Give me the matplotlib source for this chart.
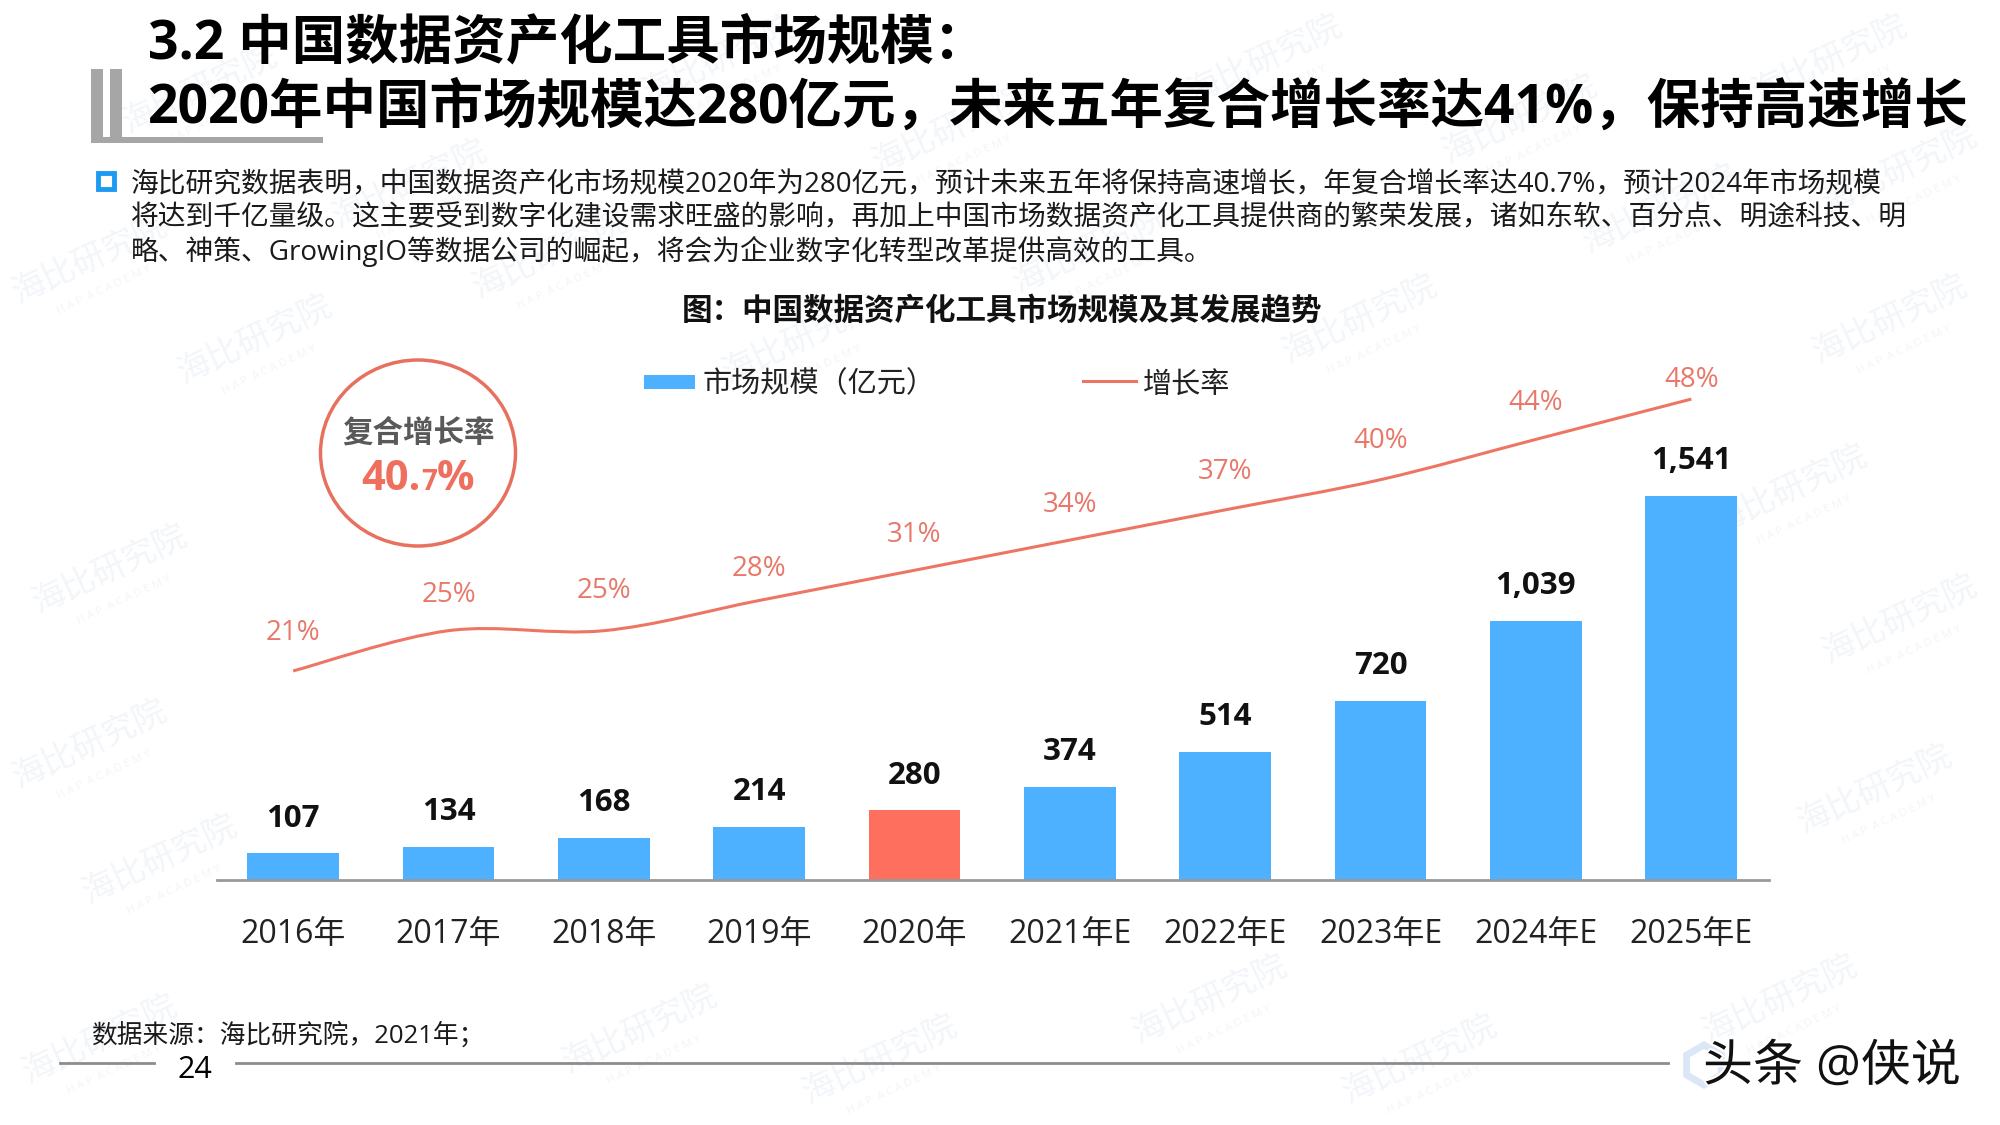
"""China data-asset tool market size slide (bars + smoothed growth line)."""
import matplotlib
matplotlib.use("Agg")
import matplotlib.pyplot as plt
import numpy as np
from matplotlib.patches import Ellipse, PathPatch, Rectangle, RegularPolygon
from matplotlib.path import Path
import matplotlib.patheffects as pe

plt.rcParams["font.family"] = ["Open Sans", "Noto Sans CJK SC", "DejaVu Sans"]

years = ["2016年", "2017年", "2018年", "2019年", "2020年",
         "2021年E", "2022年E", "2023年E", "2024年E", "2025年E"]
market_size = [107, 134, 168, 214, 280, 374, 514, 720, 1039, 1541]
growth_rate = [21, 25, 25, 28, 31, 34, 37, 40, 44, 48]
highlight_year = "2020年"

title_lines = ["3.2 中国数据资产化工具市场规模\uff1a",
               "2020年中国市场规模达280亿元\uff0c未来五年复合增长率达41%\uff0c保持高速增长"]
body_lines = ["海比研究数据表明\uff0c中国数据资产化市场规模2020年为280亿元\uff0c预计未来五年将保持高速增长\uff0c年复合增长率达40.7%\uff0c预计2024年市场规模",
              "将达到千亿量级。这主要受到数字化建设需求旺盛的影响\uff0c再加上中国市场数据资产化工具提供商的繁荣发展\uff0c诸如东软、百分点、明途科技、明",
              "略、神策、GrowingIO等数据公司的崛起\uff0c将会为企业数字化转型改革提供高效的工具。"]
chart_title = "图\uff1a中国数据资产化工具市场规模及其发展趋势"
source_text = "数据来源\uff1a海比研究院\uff0c2021年\uff1b"

BLUE = "#4db1ff"
CORAL = "#ff6f5e"
LINE_RED = "#ee7564"
WATERMARK = "#f2f5f9"


def smooth_path(xs, ys):
    """Catmull-Rom through the points, as bezier segments."""
    pts = np.column_stack([xs, ys]).astype(float)
    verts = [pts[0]]
    codes = [Path.MOVETO]
    for i in range(len(pts) - 1):
        p0 = pts[max(i - 1, 0)]
        p1 = pts[i]
        p2 = pts[i + 1]
        p3 = pts[min(i + 2, len(pts) - 1)]
        verts += [p1 + (p2 - p0) / 6, p2 - (p3 - p1) / 6, p2]
        codes += [Path.CURVE4] * 3
    return Path(verts, codes)


fig = plt.figure(figsize=(20, 11.25), dpi=100, facecolor="white")

# page layer in pixel coordinates
bg = fig.add_axes([0, 0, 1, 1], zorder=0)
bg.set_xlim(0, 2000)
bg.set_ylim(1125, 0)
bg.axis("off")

# faint watermark
marks = [(1265, 60), (1830, 60), (200, 90), (720, 60), (950, 130), (1520, 120),
         (1900, 170), (410, 185), (90, 260), (550, 255), (1090, 250), (1660, 210),
         (1360, 320), (255, 340), (1890, 320), (800, 340), (1790, 490), (110, 570),
         (1900, 620), (90, 745), (160, 860), (1875, 790), (1780, 1000), (1210, 1000),
         (640, 1030), (100, 1040), (1420, 1060), (880, 1060)]
for mx, my in marks:
    bg.text(mx, my, "海比研究院", fontsize=24, color=WATERMARK, rotation=25,
            ha="center", va="center", zorder=0)
    bg.text(mx + 14, my + 30, "H A P  A C A D E M Y", fontsize=8, color=WATERMARK,
            rotation=25, ha="center", va="center", zorder=0)

# title bracket
for x0, y0, w, h in [(91, 69, 12, 74), (110, 69, 12, 74), (91, 137, 232, 6)]:
    bg.add_patch(Rectangle((x0, y0), w, h, fc="#a6a6a6", ec="none", zorder=1))

bg.text(148, 45, title_lines[0], fontsize=38.5, fontweight="bold", color="black",
        ha="left", va="center", zorder=2)
bg.text(148, 109, title_lines[1], fontsize=38.5, fontweight="bold", color="black",
        ha="left", va="center", zorder=2)

bg.add_patch(Rectangle((98, 173), 16, 16, fc="none", ec="#1c9bf0", lw=3.5, zorder=2))
for line, y in zip(body_lines, [185, 218, 251]):
    bg.text(131, y, line, fontsize=20, color="#1a1a1a", ha="left", va="center", zorder=2)

bg.text(1002, 312, chart_title, fontsize=22,
        fontweight="bold", color="#111111", ha="center", va="center", zorder=2)

# legend
bg.add_patch(Rectangle((644, 375), 51, 14, fc=BLUE, ec="none", zorder=2))
bg.text(703, 385, "市场规模\uff08亿元\uff09", fontsize=21, color="#222222", ha="left", va="center", zorder=2)
bg.plot([1083, 1136], [381, 381], color=LINE_RED, lw=2.2, zorder=2)
bg.text(1143, 385, "增长率", fontsize=21, color="#222222", ha="left", va="center", zorder=2)

# CAGR badge
bg.add_patch(Ellipse((418, 453), 195, 186, fc="none", ec="#e8705f", lw=2.5, zorder=2))
bg.text(418, 434, "复合增长率", fontsize=22, fontweight="bold", color="#595959",
        ha="center", va="center", zorder=2)
bg.text(421, 479, "40.", fontsize=30, fontweight="bold", color="#ee6f5e",
        ha="right", va="center", zorder=2)
bg.text(421, 483, "7", fontsize=20, fontweight="bold", color="#ee6f5e",
        ha="left", va="center", zorder=2)
bg.text(437, 479, "%", fontsize=30, fontweight="bold", color="#ee6f5e",
        ha="left", va="center", zorder=2)

# footer
bg.text(91, 1035, source_text, fontsize=18.5, color="#1a1a1a",
        ha="left", va="center", zorder=2)
bg.plot([60, 154], [1063, 1063], color="#8c8c8c", lw=2, zorder=1)
bg.plot([236, 1668], [1063, 1063], color="#8c8c8c", lw=2, zorder=1)
bg.text(195, 1070, "24", fontsize=22, color="black", ha="center", va="center", zorder=2)
bg.add_patch(RegularPolygon((1704, 1065), 6, radius=20, fc="none", ec="#dbe7f6", lw=5, zorder=2))
bg.text(1703, 1068, "头条 @侠说", fontsize=36, color="#111111", ha="left", va="center", zorder=3,
        path_effects=[pe.withStroke(linewidth=3, foreground="white")])

# chart
ax = fig.add_axes([217 / 2000, 245 / 1125, 1552 / 2000, 580 / 1125], zorder=1)
ax.patch.set_alpha(0)
x = np.arange(len(years))
colors = [CORAL if y == highlight_year else BLUE for y in years]
ax.bar(x, market_size, width=0.59, color=colors)
ax.set_xlim(-0.49, 9.5)
ax.set_ylim(0, 2328)
ax.set_xticks(x)
ax.set_xticklabels(years, fontsize=23, color="#222222")
ax.tick_params(axis="x", length=0, pad=27)
ax.set_yticks([])
for side in ["top", "left", "right"]:
    ax.spines[side].set_visible(False)
ax.spines["bottom"].set_color("#999999")
ax.spines["bottom"].set_linewidth(2)
for xi, v in zip(x, market_size):
    ax.annotate(f"{v:,}", (xi, v), xytext=(0, 25), textcoords="offset points",
                ha="center", va="center", fontsize=22.5, fontweight="bold", color="#111111")

ax2 = ax.twinx()
ax2.patch.set_alpha(0)
ax2.set_ylim(0.24, 57.84)
ax2.set_yticks([])
for side in ax2.spines:
    ax2.spines[side].set_visible(False)
ax2.add_patch(PathPatch(smooth_path(x, growth_rate), fc="none", ec=LINE_RED, lw=2.2))
pct_offsets = [27, 26, 28.5, 23, 25.5, 25, 27.5, 27.5, 26.5, 14]
for xi, v, off in zip(x, growth_rate, pct_offsets):
    ax2.annotate(f"{v}%", (xi, v), xytext=(0, off), textcoords="offset points",
                 ha="center", va="center", fontsize=20, color="#e8786a")

fig.savefig("out.png", dpi=100)
